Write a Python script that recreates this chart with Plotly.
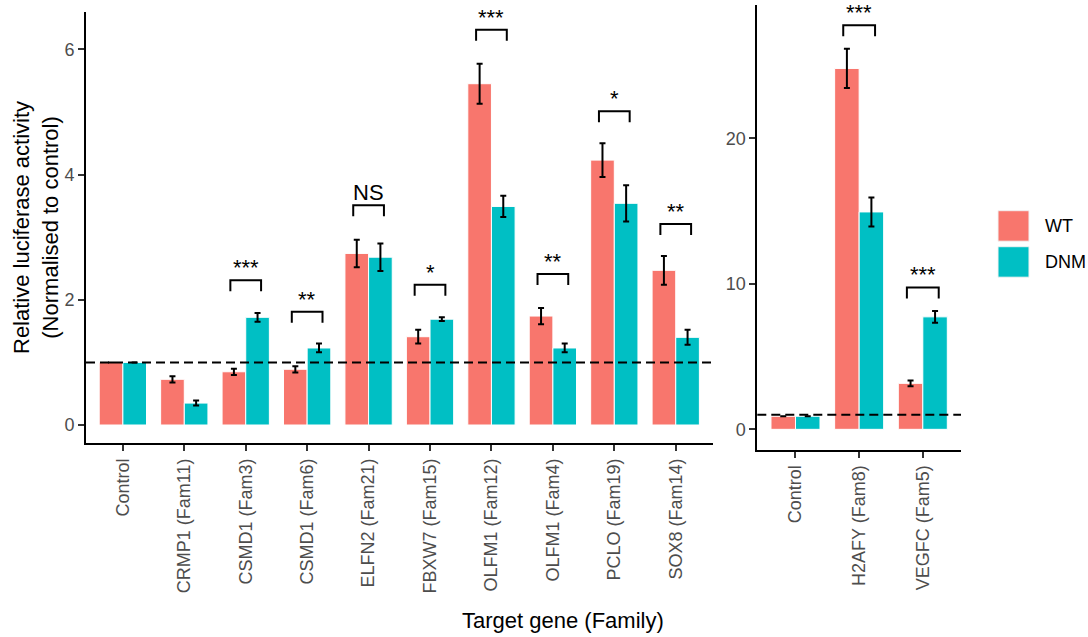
import plotly.graph_objects as go

# ---------------- data ----------------
left_genes = ["Control", "CRMP1 (Fam11)", "CSMD1 (Fam3)", "CSMD1 (Fam6)", "ELFN2 (Fam21)",
              "FBXW7 (Fam15)", "OLFM1 (Fam12)", "OLFM1 (Fam4)", "PCLO (Fam19)", "SOX8 (Fam14)"]
wt_left = [1.0, 0.73, 0.85, 0.89, 2.74, 1.41, 5.45, 1.74, 4.23, 2.47]
wt_left_err = [None, 0.05, 0.05, 0.05, 0.22, 0.11, 0.32, 0.13, 0.27, 0.23]
dnm_left = [1.0, 0.35, 1.72, 1.23, 2.68, 1.69, 3.49, 1.23, 3.54, 1.40]
dnm_left_err = [None, 0.04, 0.07, 0.07, 0.22, 0.03, 0.17, 0.07, 0.29, 0.12]
sig_left = ["", "", "***", "**", "NS", "*", "***", "**", "*", "**"]
sig_left_y = [None, None, 2.31, 1.81, 3.51, 2.24, 6.31, 2.41, 5.01, 3.21]

right_genes = ["Control", "H2AFY (Fam8)", "VEGFC (Fam5)"]
wt_right = [0.9, 24.8, 3.16]
wt_right_err = [None, 1.35, 0.2]
dnm_right = [0.9, 14.94, 7.73]
dnm_right_err = [None, 1.0, 0.4]
sig_right = ["", "***", "***"]
sig_right_y = [None, 27.77, 9.75]

left_ticks = [0, 2, 4, 6]
right_ticks = [0, 10, 20]
reference_level = 1

# ---------------- style / layout ----------------
W, H = 1088, 637

def xp(x):
    return x / W

def yp(y):
    return min(1.0, max(0.0, (H - y) / H))

WT_COL = "#F8766D"
DNM_COL = "#00BFC4"
FONT = "Arial, 'Liberation Sans', Helvetica, sans-serif"
TICK_COL = "#4D4D4D"

left_yrange = [-0.292, 6.595]
right_yrange = [-1.42, 29.16]
left_xdom = [xp(86), xp(712.6)]
right_xdom = [xp(757.3), xp(961)]
left_ydom = [yp(443.3), yp(12)]
right_ydom = [yp(450), yp(5)]

fig = go.Figure()

def add_panel(genes, wt, wt_err, dnm, dnm_err, xa, ya):
    xs = list(range(len(genes)))
    for name, vals, errs, col in [("WT", wt, wt_err, WT_COL), ("DNM", dnm, dnm_err, DNM_COL)]:
        fig.add_trace(go.Bar(
            x=xs, y=vals, name=name, marker=dict(color=col, line=dict(color="white", width=1)),
            error_y=dict(type="data", array=errs, visible=True, color="black", thickness=2, width=3),
            xaxis=xa, yaxis=ya, showlegend=False, offsetgroup=name,
        ))

add_panel(left_genes, wt_left, wt_left_err, dnm_left, dnm_left_err, "x", "y")
add_panel(right_genes, wt_right, wt_right_err, dnm_right, dnm_right_err, "x2", "y2")

shapes = []
annotations = []

def add_sig(sigs, ys, xref, yref, yrange, ydom):
    px_per_unit = (ydom[1] - ydom[0]) * H / (yrange[1] - yrange[0])
    leg = 11 / px_per_unit
    for i, (s, y) in enumerate(zip(sigs, ys)):
        if not s:
            continue
        fig.add_trace(go.Scatter(
            x=[i - 0.25, i - 0.25, i + 0.25, i + 0.25], y=[y - leg, y, y, y - leg],
            mode="lines", line=dict(color="black", width=2), xaxis=xref, yaxis=yref,
            showlegend=False, hoverinfo="skip", cliponaxis=False))
        annotations.append(dict(x=i, y=y, xref=xref, yref=yref, text=s, showarrow=False,
                                yanchor="bottom", xanchor="center", yshift=-2,
                                font=dict(family=FONT, size=22, color="black")))

add_sig(sig_left, sig_left_y, "x", "y", left_yrange, left_ydom)
add_sig(sig_right, sig_right_y, "x2", "y2", right_yrange, right_ydom)

# reference dashed lines
for xr, yr in [("x domain", "y"), ("x2 domain", "y2")]:
    shapes.append(dict(type="line", xref=xr, yref=yr, x0=0, x1=1, y0=reference_level, y1=reference_level,
                       line=dict(color="black", width=2, dash="9px,5px")))

# legend (drawn manually)
for (label, col, y0) in [("WT", WT_COL, 210.7), ("DNM", DNM_COL, 246.7)]:
    shapes.append(dict(type="rect", xref="paper", yref="paper",
                       x0=xp(998), x1=xp(1029), y0=yp(y0 + 30.5), y1=yp(y0),
                       fillcolor=col, line=dict(color="#F2F2F2", width=1)))
    annotations.append(dict(x=xp(1043), y=yp(y0 + 15.5), xref="paper", yref="paper",
                            text=label, showarrow=False, xanchor="left", yanchor="middle",
                            font=dict(family=FONT, size=18, color="black")))

# axis titles
annotations.append(dict(x=xp(36), y=yp(228), xref="paper", yref="paper",
                        text="Relative luciferase activity<br>(Normalised to control)",
                        textangle=-90, showarrow=False, xanchor="center", yanchor="middle",
                        font=dict(family=FONT, size=22, color="black")))
annotations.append(dict(x=xp(563), y=yp(620), xref="paper", yref="paper",
                        text="Target gene (Family)", showarrow=False,
                        xanchor="center", yanchor="middle",
                        font=dict(family=FONT, size=22, color="black")))

axis_common = dict(showline=True, linecolor="black", linewidth=2, ticks="outside",
                   ticklen=6, tickwidth=2, tickcolor="#333333", showgrid=False, zeroline=False,
                   tickfont=dict(family=FONT, size=18, color=TICK_COL))

fig.update_layout(
    width=W, height=H, margin=dict(l=0, r=0, t=0, b=0),
    paper_bgcolor="white", plot_bgcolor="white",
    barmode="group", bargap=0.23, bargroupgap=0,
    showlegend=False,
    xaxis=dict(domain=left_xdom, range=[-0.6, len(left_genes) - 0.4], tickmode="array",
               tickvals=list(range(len(left_genes))), ticktext=left_genes, tickangle=-90,
               anchor="y", **axis_common),
    yaxis=dict(domain=left_ydom, range=left_yrange, tickmode="array", tickvals=left_ticks,
               anchor="x", **axis_common),
    xaxis2=dict(domain=right_xdom, range=[-0.6, len(right_genes) - 0.4], tickmode="array",
                tickvals=list(range(len(right_genes))), ticktext=right_genes, tickangle=-90,
                anchor="y2", **axis_common),
    yaxis2=dict(domain=right_ydom, range=right_yrange, tickmode="array", tickvals=right_ticks,
                anchor="x2", **axis_common),
    shapes=shapes, annotations=annotations,
    font=dict(family=FONT),
)

fig.write_html("out.html", config={"displayModeBar": False},
               post_script="document.body.style.margin='0';document.body.style.overflow='hidden';")
